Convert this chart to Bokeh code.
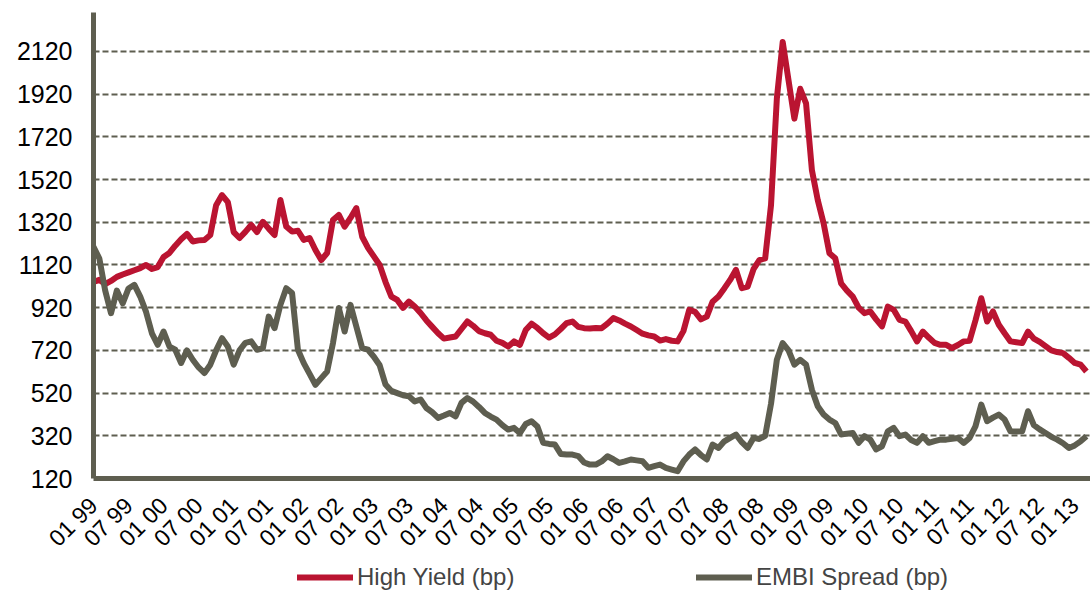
import math
from bokeh.plotting import figure
from bokeh.layouts import column
from bokeh.models import FixedTicker, Legend, LegendItem, Range1d, ColumnDataSource
from bokeh.embed import file_html
from bokeh.resources import INLINE

# Monthly observations, Jan 1999 (index 0) .. Mar 2013 (index 170)
high_yield = [
    1040, 1050, 1030, 1045, 1064, 1075, 1085, 1095, 1105, 1120,
    1101, 1110, 1157, 1176, 1210, 1240, 1265, 1230, 1235, 1237,
    1260, 1400, 1447, 1414, 1274, 1246, 1275, 1307, 1274, 1322,
    1290, 1260, 1424, 1300, 1276, 1280, 1237, 1246, 1190, 1143,
    1176, 1330, 1354, 1299, 1340, 1386, 1252, 1200, 1160, 1120,
    1040, 972, 956, 919, 948, 925, 895, 860, 830, 800,
    775, 780, 785, 820, 855, 835, 810, 800, 793, 765,
    755, 738, 762, 746, 815, 845, 825, 800, 780, 795,
    820, 847, 855, 830, 824, 822, 825, 824, 845, 871,
    860, 845, 832, 815, 798, 790, 785, 766, 773, 765,
    762, 810, 910, 900, 865, 878, 948, 972, 1010, 1050,
    1097, 1011, 1019, 1100, 1143, 1151, 1400, 1900, 2164, 1984,
    1805, 1945, 1876, 1564, 1424, 1315, 1175, 1151, 1034, 1000,
    972, 920, 894, 902, 865, 832, 925, 910, 863, 855,
    810, 762, 808, 780, 755, 746, 746, 731, 745, 762,
    765, 860, 964, 855, 902, 840, 800, 762, 758, 754,
    808, 775, 760, 740, 720, 712, 707, 685, 661, 653,
    621,
]
embi_spread = [
    1205, 1150, 1000, 894, 1000, 940, 1010, 1027, 972, 900,
    800, 746, 808, 738, 723, 661, 720, 676, 640, 614,
    653, 720, 777, 738, 653, 720, 755, 762, 723, 730,
    878, 824, 933, 1011, 988, 723, 660, 610, 559, 590,
    621, 754, 918, 808, 933, 832, 731, 723, 690, 650,
    560, 530, 520, 510, 505, 481, 490, 450, 430, 404,
    415, 427, 411, 474, 497, 480, 455, 427, 410, 396,
    370, 349, 357, 333, 375, 388, 364, 287, 282, 279,
    235, 232, 232, 225, 195, 185, 185, 200, 224, 210,
    193, 200, 209, 205, 201, 170, 178, 185, 170, 162,
    154, 200, 232, 256, 230, 209, 279, 263, 294, 310,
    326, 290, 263, 310, 305, 320, 470, 676, 754, 720,
    653, 676, 653, 536, 458, 420, 396, 380, 326, 330,
    333, 287, 318, 302, 256, 271, 341, 357, 318, 326,
    300, 287, 318, 287, 295, 302, 302, 306, 310, 287,
    310, 364, 466, 388, 405, 419, 396, 341, 340, 341,
    435, 370, 350, 333, 315, 302, 285, 263, 275, 294,
    318,
]
months = list(range(len(high_yield)))

tick_labels = [
    "01 99", "07 99", "01 00", "07 00", "01 01", "07 01", "01 02", "07 02",
    "01 03", "07 03", "01 04", "07 04", "01 05", "07 05", "01 06", "07 06",
    "01 07", "07 07", "01 08", "07 08", "01 09", "07 09", "01 10", "07 10",
    "01 11", "07 11", "01 12", "07 12", "01 13",
]
y_ticks = [120, 320, 520, 720, 920, 1120, 1320, 1520, 1720, 1920, 2120]
series_names = ["High Yield (bp)", "EMBI Spread (bp)"]

RED = "#BA1431"
GRAY = "#5E5E50"
FONT = "Liberation Sans"

src = ColumnDataSource(dict(m=months, hy=high_yield, embi=embi_spread))

p = figure(width=1090, height=563, output_backend="svg", toolbar_location=None,
           x_range=Range1d(0, 170.7), y_range=Range1d(120, 2302),
           min_border_left=93, min_border_right=0, min_border_top=12,
           min_border_bottom=84)
p.outline_line_color = None
p.background_fill_color = "white"

p.line("m", "hy", source=src, line_color=RED, line_width=6, line_join="round")
p.line("m", "embi", source=src, line_color=GRAY, line_width=6, line_join="round")

tick_pos = [i * 6 for i in range(len(tick_labels))]
p.xaxis.ticker = FixedTicker(ticks=tick_pos)
p.xaxis.major_label_overrides = {t: lab for t, lab in zip(tick_pos, tick_labels)}
p.xaxis.major_label_orientation = math.pi / 4
p.yaxis.ticker = FixedTicker(ticks=y_ticks)

for ax in (p.xaxis, p.yaxis):
    ax.axis_line_color = GRAY
    ax.axis_line_width = 5
    ax.major_tick_line_color = None
    ax.minor_tick_line_color = None
    ax.major_tick_out = 0
    ax.major_tick_in = 0
    ax.major_label_text_font = FONT
    ax.major_label_text_color = "black"
p.yaxis.major_label_text_font_size = "25px"
p.yaxis.major_label_standoff = 21
p.xaxis.major_label_text_font_size = "23px"
p.xaxis.major_label_standoff = 23

p.xgrid.grid_line_color = None
p.ygrid.grid_line_color = GRAY
p.ygrid.grid_line_width = 2
p.ygrid.grid_line_dash = "6 3"

# Legend strip below the chart (series drawn outside its visible range)
pl = figure(width=1090, height=28, output_backend="svg", toolbar_location=None,
            x_range=Range1d(-2, -1), y_range=Range1d(-2, -1),
            x_axis_location=None, y_axis_location=None,
            min_border_left=0, min_border_right=0, min_border_top=0,
            min_border_bottom=0)
pl.outline_line_color = None
pl.grid.visible = False
l_hy = pl.line("m", "hy", source=src, line_color=RED, line_width=6, line_cap="round")
l_em = pl.line("m", "embi", source=src, line_color=GRAY, line_width=6, line_cap="round")

legend = Legend(items=[LegendItem(label=series_names[0], renderers=[l_hy]),
                       LegendItem(label=series_names[1], renderers=[l_em])],
                location=(204, 0), orientation="horizontal",
                padding=0, margin=0, spacing=134, border_line_alpha=0,
                background_fill_alpha=0, glyph_width=56, glyph_height=24,
                label_standoff=4, label_text_font=FONT,
                label_text_font_size="24px", label_height=24, label_width=205)
pl.add_layout(legend)

layout = column(p, pl, spacing=0)
open("out.html", "w").write(file_html(layout, INLINE))
